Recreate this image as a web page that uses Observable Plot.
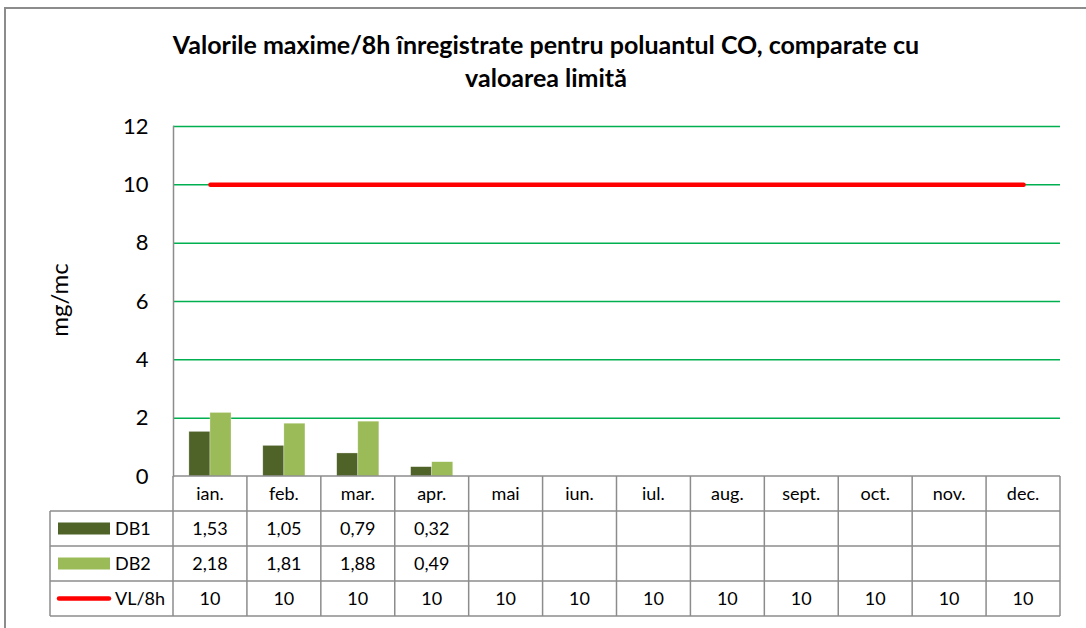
<!DOCTYPE html>
<html>
<head>
<meta charset="utf-8">
<script src="https://cdn.jsdelivr.net/npm/d3@7"></script>
<script src="https://cdn.jsdelivr.net/npm/@observablehq/plot@0.6"></script>
<style>
  html, body { margin: 0; padding: 0; background: #fff; }
  #wrap { position: relative; width: 1086px; height: 628px; overflow: hidden; font-family: Lato, "Open Sans", sans-serif; }
  #frame { position: absolute; left: 4px; top: 7px; width: 1200px; height: 700px; border: 2px solid #8c8c8c; box-sizing: border-box; }
  #title { position: absolute; left: 0; top: 28px; width: 1092px; text-align: center; font-weight: bold; font-size: 25px; line-height: 33px; color: #000; }
  #ylabel { position: absolute; left: 58px; top: 300px; transform: translate(-50%, -50%) rotate(-90deg); font-size: 24px; color: #000; white-space: nowrap; }
  #chart { position: absolute; left: 0; top: 0; }
</style>
</head>
<body>
<div id="wrap">
  <div id="frame"></div>
  <div id="title">Valorile maxime/8h înregistrate pentru poluantul CO, comparate cu<br>valoarea limită</div>
  <div id="ylabel">mg/mc</div>
  <div id="chart"></div>
</div>
<script>
const months = ["ian.", "feb.", "mar.", "apr.", "mai", "iun.", "iul.", "aug.", "sept.", "oct.", "nov.", "dec."];
const db1 = [1.53, 1.05, 0.79, 0.32, null, null, null, null, null, null, null, null];
const db2 = [2.18, 1.81, 1.88, 0.49, null, null, null, null, null, null, null, null];
const vl8h = [10, 10, 10, 10, 10, 10, 10, 10, 10, 10, 10, 10];
const seriesNames = ["DB1", "DB2", "VL/8h"];
const seriesColors = ["#4F6228", "#9BBB59", "#FF0000"];
const yTicks = [0, 2, 4, 6, 8, 10, 12];
const gridTicks = [2, 4, 6, 8, 10, 12];

const W = 1086, H = 628;
const mL = 173, mR = 26, mT = 126, mB = 152;
const bw = (W - mL - mR) / months.length;
const pad = bw * 0.215, half = bw / 2;
const FONT = "Lato, 'Open Sans', sans-serif";

const rows1 = months.map((m, i) => ({month: m, value: db1[i]})).filter(d => d.value != null);
const rows2 = months.map((m, i) => ({month: m, value: db2[i]})).filter(d => d.value != null);
const rowsVL = months.map((m, i) => ({month: m, value: vl8h[i]}));

const chart = Plot.plot({
  width: W, height: H,
  marginLeft: mL, marginRight: mR, marginTop: mT, marginBottom: mB,
  style: {fontFamily: FONT, fontSize: "22px", color: "#000", background: "transparent", overflow: "visible"},
  x: {domain: months, padding: 0, round: false, axis: null},
  y: {domain: [0, 12], axis: null},
  marks: [
    Plot.ruleY(gridTicks, {stroke: "#00B050", strokeWidth: 1.5}),
    Plot.axisY(yTicks, {tickSize: 0, tickPadding: 25, label: null, fontSize: 22, tickFormat: d => String(d)}),
    Plot.barY(rows1, {x: "month", y: "value", fill: seriesColors[0], insetLeft: pad, insetRight: half, stroke: "#ffffff", strokeOpacity: 0.5, strokeWidth: 0.6}),
    Plot.barY(rows2, {x: "month", y: "value", fill: seriesColors[1], insetLeft: half, insetRight: pad, stroke: "#ffffff", strokeOpacity: 0.5, strokeWidth: 0.6}),
    Plot.lineY(rowsVL, {x: "month", y: "value", stroke: seriesColors[2], strokeWidth: 4.5}),
    Plot.frame({anchor: "left", stroke: "#8c8c8c", strokeWidth: 1.5})
  ]
});
document.getElementById("chart").appendChild(chart);

// data table below the plot, aligned with Plot's x scale
const xs = chart.scale("x"), ys = chart.scale("y");
const colStep = xs.bandwidth;
const x0 = xs.apply(months[0]);
const xEnd = xs.apply(months[months.length - 1]) + colStep;
const tTop = ys.apply(0);
const rowH = 35;
const legL = 50;
const svg = d3.select(chart);
const g = svg.append("g").attr("font-family", FONT).attr("font-size", 18).attr("fill", "#000");
const lines = g.append("g").attr("stroke", "#8c8c8c").attr("stroke-width", 1.5).attr("fill", "none");
for (let i = 0; i <= 4; i++) {
  lines.append("line").attr("x1", i === 0 ? x0 : legL).attr("x2", xEnd)
    .attr("y1", tTop + i * rowH).attr("y2", tTop + i * rowH);
}
lines.append("line").attr("x1", legL).attr("x2", legL).attr("y1", tTop + rowH).attr("y2", tTop + 4 * rowH);
months.forEach((m) => {
  const xl = xs.apply(m);
  lines.append("line").attr("x1", xl).attr("x2", xl).attr("y1", tTop).attr("y2", tTop + 4 * rowH);
});
lines.append("line").attr("x1", xEnd).attr("x2", xEnd).attr("y1", tTop).attr("y2", tTop + 4 * rowH);

const txt = g.append("g").attr("text-anchor", "middle");
const fmt = v => v == null ? "" : (Number.isInteger(v) ? String(v) : v.toFixed(2).replace(".", ","));
const tableRows = [months.map(m => m), db1.map(fmt), db2.map(fmt), vl8h.map(fmt)];
tableRows.forEach((row, r) => {
  row.forEach((t, i) => {
    txt.append("text").attr("x", xs.apply(months[i]) + colStep / 2).attr("y", tTop + r * rowH + rowH / 2)
      .attr("dy", "0.35em").text(t);
  });
});
// legend column
const leg = g.append("g").attr("text-anchor", "start");
seriesNames.forEach((name, k) => {
  const cy = tTop + (k + 1) * rowH + rowH / 2;
  if (k < 2) {
    leg.append("rect").attr("x", 58).attr("y", cy - 6).attr("width", 52).attr("height", 12).attr("fill", seriesColors[k]);
  } else {
    leg.append("line").attr("x1", 59).attr("x2", 109).attr("y1", cy).attr("y2", cy)
      .attr("stroke", seriesColors[k]).attr("stroke-width", 4.5).attr("stroke-linecap", "round");
  }
  leg.append("text").attr("x", 115).attr("y", cy).attr("dy", "0.35em").text(name);
});
</script>
</body>
</html>
